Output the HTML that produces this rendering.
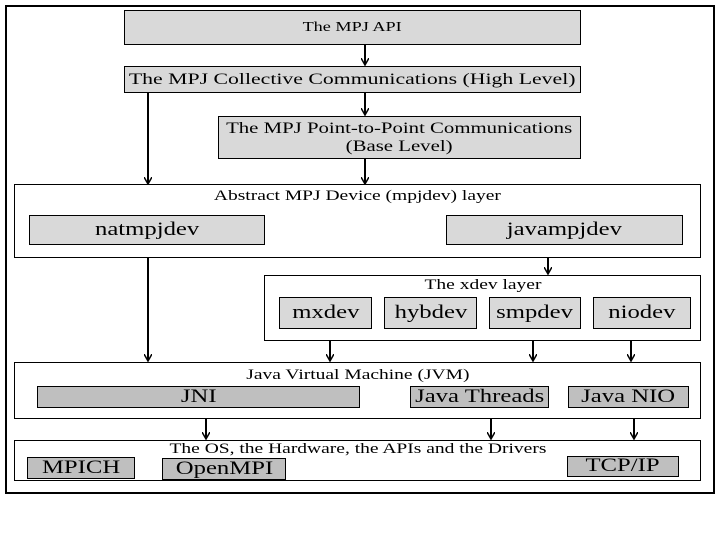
<!DOCTYPE html>
<html><head><style>
body{margin:0;width:720px;height:540px;background:#fff;position:relative;font-family:"Liberation Serif",serif;overflow:hidden}
div.b{position:absolute;box-sizing:border-box;border:1px solid #000;text-align:center;color:#000}
.g{background:#d9d9d9}
.d{background:#bfbfbf}
.c{display:flex;align-items:center;justify-content:center;line-height:1.1}
.t{font-size:15px;padding-top:3px}
.L{font-size:19px}
span{display:inline-block;transform:scaleX(1.3);white-space:nowrap}
</style></head><body>
<div class="b" style="left:5px;top:5px;width:710px;height:489px;border-width:2px"></div>
<div class="b g c" style="left:124px;top:10px;width:457px;height:35px;font-size:14px"><span>The MPJ API</span></div>
<div class="b g c" style="left:124px;top:66px;width:457px;height:27px;font-size:16px"><span style="transform:scaleX(1.36)">The MPJ Collective Communications (High Level)</span></div>
<div class="b g c" style="left:218px;top:116px;width:363px;height:43px;font-size:16px"><span style="transform:scaleX(1.3)">The MPJ Point-to-Point Communications<br>(Base Level)</span></div>
<div class="b t" style="left:14px;top:184px;width:687px;height:74px"><span>Abstract MPJ Device (mpjdev) layer</span></div>
<div class="b g c L" style="left:29px;top:215px;width:236px;height:30px"><span>natmpjdev</span></div>
<div class="b g c L" style="left:446px;top:215px;width:237px;height:30px"><span>javampjdev</span></div>
<div class="b t" style="left:264px;top:275px;width:437px;height:66px;padding-top:1px"><span>The xdev layer</span></div>
<div class="b g c L" style="left:279px;top:297px;width:93px;height:32px"><span>mxdev</span></div>
<div class="b g c L" style="left:384px;top:297px;width:93px;height:32px"><span>hybdev</span></div>
<div class="b g c L" style="left:489px;top:297px;width:92px;height:32px"><span>smpdev</span></div>
<div class="b g c L" style="left:593px;top:297px;width:98px;height:32px"><span>niodev</span></div>
<div class="b t" style="left:14px;top:362px;width:687px;height:57px;padding-top:4px"><span>Java Virtual Machine (JVM)</span></div>
<div class="b d c L" style="left:37px;top:386px;width:323px;height:22px"><span>JNI</span></div>
<div class="b d c L" style="left:410px;top:386px;width:139px;height:22px"><span>Java Threads</span></div>
<div class="b d c L" style="left:568px;top:386px;width:121px;height:22px"><span>Java NIO</span></div>
<div class="b t" style="left:14px;top:440px;width:687px;height:41px;padding-top:0"><span>The OS, the Hardware, the APIs and the Drivers</span></div>
<div class="b d c L" style="left:27px;top:457px;width:108px;height:22px"><span>MPICH</span></div>
<div class="b d c L" style="left:162px;top:458px;width:124px;height:22px"><span>OpenMPI</span></div>
<div class="b d c L" style="left:567px;top:456px;width:112px;height:21px"><span>TCP/IP</span></div>
<svg width="720" height="540" style="position:absolute;left:0;top:0">
<defs><marker id="a" markerWidth="8" markerHeight="8" refX="6" refY="4" orient="auto" markerUnits="userSpaceOnUse"><path d="M0,0 L7,4 L0,8" fill="none" stroke="#000" stroke-width="1.5"/></marker></defs>
<g stroke="#000" stroke-width="2" marker-end="url(#a)">
<line x1="365" y1="45" x2="365" y2="64"/>
<line x1="365" y1="93" x2="365" y2="114"/>
<line x1="148" y1="93" x2="148" y2="183"/>
<line x1="365" y1="159" x2="365" y2="183"/>
<line x1="148" y1="258" x2="148" y2="360"/>
<line x1="548" y1="258" x2="548" y2="273"/>
<line x1="330" y1="341" x2="330" y2="360"/>
<line x1="533" y1="341" x2="533" y2="360"/>
<line x1="631" y1="341" x2="631" y2="360"/>
<line x1="206" y1="419" x2="206" y2="438"/>
<line x1="491" y1="419" x2="491" y2="438"/>
<line x1="634" y1="419" x2="634" y2="438"/>
</g></svg>
</body></html>
